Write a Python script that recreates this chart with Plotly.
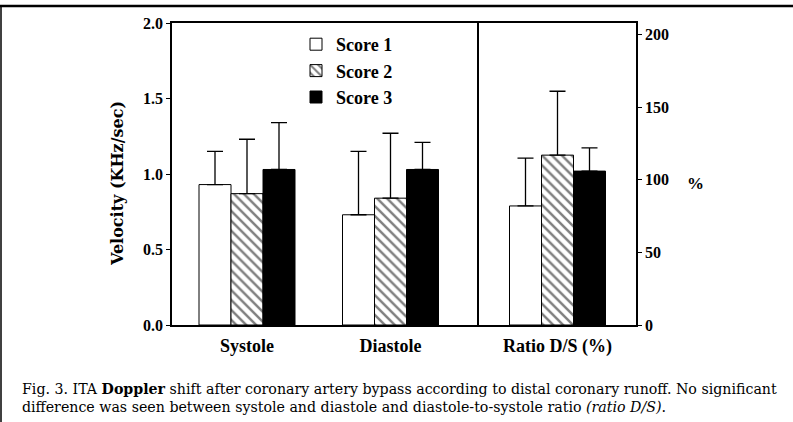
import plotly.graph_objects as go

# ---- data ----
categories = ["Systole", "Diastole"]
ratio_category = ["Ratio D/S (%)"]
series_names = ["Score 1", "Score 2", "Score 3"]

score1_velocity = [0.93, 0.73]
score1_velocity_sd = [0.22, 0.42]
score2_velocity = [0.87, 0.84]
score2_velocity_sd = [0.36, 0.43]
score3_velocity = [1.03, 1.03]
score3_velocity_sd = [0.31, 0.18]

score1_ratio = [82]
score1_ratio_sd = [33]
score2_ratio = [117]
score2_ratio_sd = [44]
score3_ratio = [106]
score3_ratio_sd = [16]

left_ticks = [0.0, 0.5, 1.0, 1.5, 2.0]
left_tick_labels = ["0.0", "0.5", "1.0", "1.5", "2.0"]
right_ticks = [0, 50, 100, 150, 200]
right_tick_labels = ["0", "50", "100", "150", "200"]

# ---- layout geometry (pixels) ----
W, H = 793, 422
L, R, T, B = 172, 636, 23, 325
DIV = 479
pw, ph = R - L, B - T
FONT = "Liberation Serif"
WIDE = "DejaVu Serif"


def px_x(x):
    return (x - L) / pw


def px_y(y):
    return (B - y) / ph


d1 = (DIV - L) / pw
unit = 143.5  # px per category step
left_lo = -(247 - L) / unit
left_hi = left_lo + (DIV - L) / unit
half_r = (R - DIV) / unit / 2

styles = [
    dict(color="white", line=dict(color="black", width=1)),
    dict(color="white", line=dict(color="black", width=1),
         pattern=dict(shape="\\", fgcolor="black", bgcolor="white", size=7, solidity=0.35)),
    dict(color="black", line=dict(color="black", width=1)),
]

vel_vals = [score1_velocity, score2_velocity, score3_velocity]
vel_sds = [score1_velocity_sd, score2_velocity_sd, score3_velocity_sd]
rat_vals = [score1_ratio, score2_ratio, score3_ratio]
rat_sds = [score1_ratio_sd, score2_ratio_sd, score3_ratio_sd]

fig = go.Figure()
for i, name in enumerate(series_names):
    eb = dict(type="data", symmetric=False, color="black", thickness=1.3, width=8)
    fig.add_trace(go.Bar(
        x=categories, y=vel_vals[i], name=name, legendgroup=name,
        marker=styles[i],
        error_y=dict(eb, array=vel_sds[i], arrayminus=[0] * len(vel_sds[i])),
        xaxis="x", yaxis="y",
    ))
    fig.add_trace(go.Bar(
        x=ratio_category, y=rat_vals[i], name=name, legendgroup=name, showlegend=False,
        marker=styles[i],
        error_y=dict(eb, array=rat_sds[i], arrayminus=[0] * len(rat_sds[i])),
        xaxis="x2", yaxis="y2",
    ))

axis_font = dict(family=FONT, size=16, color="black", weight="bold")
xlab_font = dict(family=FONT, size=18, color="black", weight="bold")

fig.update_layout(
    width=W, height=H,
    margin=dict(l=L, r=W - R, t=T, b=H - B, pad=0),
    paper_bgcolor="white", plot_bgcolor="white",
    barmode="group", bargap=1 - 96 / unit, bargroupgap=0,
    font=dict(family=FONT, color="black"),
    xaxis=dict(domain=[0, d1], range=[left_lo, left_hi], type="category",
               showline=True, linecolor="black", linewidth=1.5, mirror=True,
               ticks="outside", ticklen=4, tickcolor="rgba(0,0,0,0)",
               tickfont=xlab_font, showgrid=False, zeroline=False),
    xaxis2=dict(domain=[d1, 1], range=[-half_r, half_r], type="category",
                showline=True, linecolor="black", linewidth=1.5, mirror=True,
                ticks="outside", ticklen=4, tickcolor="rgba(0,0,0,0)",
                tickfont=xlab_font, showgrid=False, zeroline=False, anchor="y2"),
    yaxis=dict(range=[0, 2.0], tickvals=left_ticks, ticktext=left_tick_labels,
               showline=True, linecolor="black", linewidth=1.5, mirror=False,
               ticks="outside", ticklen=4, tickcolor="black",
               tickfont=axis_font, showgrid=False, zeroline=False, anchor="x"),
    yaxis2=dict(range=[0, 208], tickvals=right_ticks, ticktext=right_tick_labels,
                side="right", anchor="x2",
                showline=True, linecolor="black", linewidth=1.5, mirror=True,
                ticks="outside", ticklen=4, tickcolor="black",
                tickfont=axis_font, showgrid=False, zeroline=False),
    legend=dict(x=px_x(296), y=px_y(26), xanchor="left", yanchor="top",
                bgcolor="rgba(0,0,0,0)", tracegroupgap=0,
                font=dict(family=FONT, size=18, color="black", weight="bold")),
    showlegend=True,
)

annotations = [
    dict(text="Velocity (KHz/sec)", textangle=-90, x=px_x(118), y=px_y(184),
         font=dict(family=WIDE, size=16, color="black", weight="bold")),
    dict(text="%", x=px_x(695), y=px_y(183),
         font=dict(family=FONT, size=17, color="black", weight="bold")),
    dict(text="Fig. 3. ITA <b>Doppler</b> shift after coronary artery bypass according to distal coronary runoff. No significant",
         x=px_x(20), y=px_y(389), xanchor="left",
         font=dict(family=WIDE, size=14.2, color="black")),
    dict(text="difference was seen between systole and diastole and diastole-to-systole ratio <i>(ratio D/S)</i>.",
         x=px_x(20), y=px_y(407), xanchor="left",
         font=dict(family=WIDE, size=14.2, color="black")),
]
for a in annotations:
    a.update(xref="paper", yref="paper", showarrow=False, yanchor="middle")
    a.setdefault("xanchor", "center")
fig.update_layout(annotations=annotations)

fig.add_shape(type="line", xref="paper", yref="paper", x0=px_x(0), x1=px_x(W),
              y0=px_y(6), y1=px_y(6), line=dict(color="black", width=2.5))
fig.add_shape(type="line", xref="paper", yref="paper", x0=px_x(1), x1=px_x(1),
              y0=px_y(6), y1=px_y(H), line=dict(color="black", width=1.5))

fig.write_html("out.html", config={"displayModeBar": False},
               post_script="document.body.style.margin='0px';")
